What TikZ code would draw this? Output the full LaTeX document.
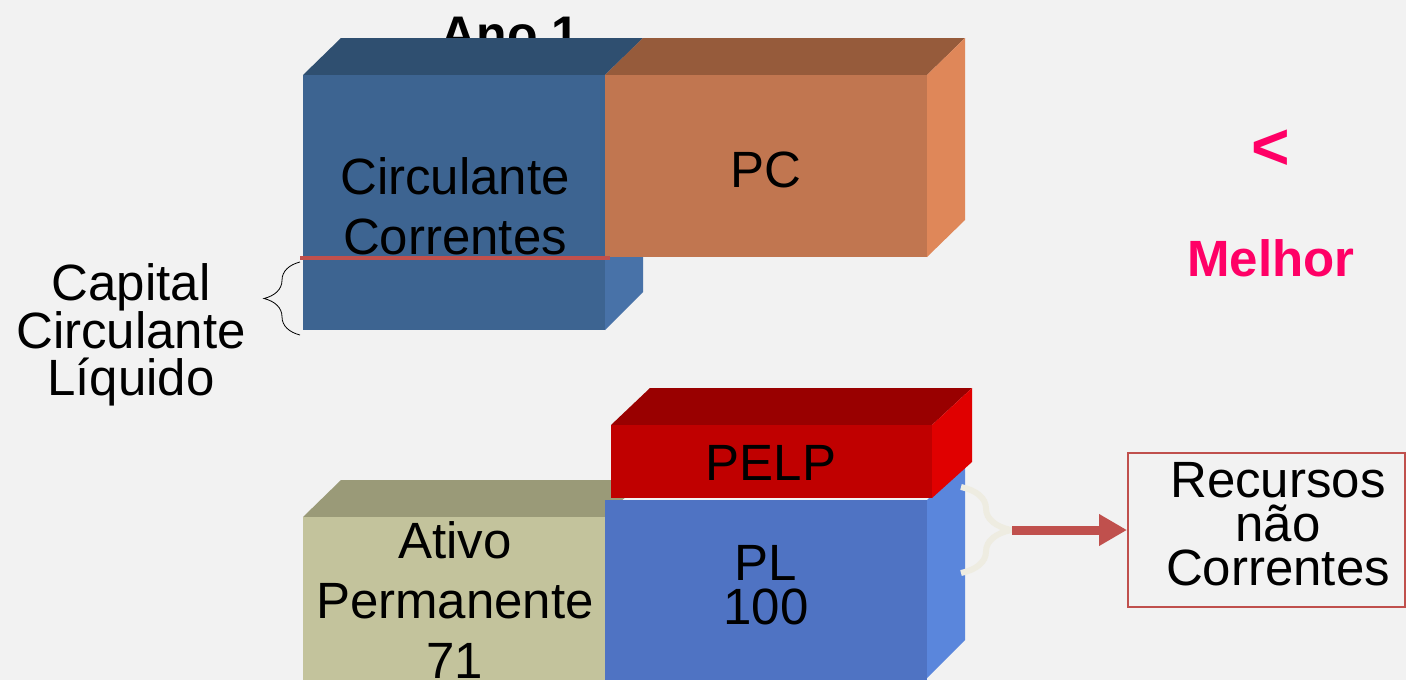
\documentclass[tikz,border=0pt]{standalone}
\usepackage{fontspec}
\setmainfont{Liberation Sans}
\usetikzlibrary{arrows.meta,decorations.pathreplacing}
\definecolor{bg}{HTML}{F2F2F2}
\definecolor{circfront}{HTML}{3D6491}
\definecolor{circtop}{HTML}{2F4F70}
\definecolor{circside}{HTML}{4872A8}
\definecolor{pcfront}{HTML}{C17650}
\definecolor{pctop}{HTML}{965B3B}
\definecolor{pcside}{HTML}{DF8759}
\definecolor{atfront}{HTML}{C3C39C}
\definecolor{attop}{HTML}{9A9A78}
\definecolor{plfront}{HTML}{4F73C3}
\definecolor{plside}{HTML}{5A86DC}
\definecolor{pelpfront}{HTML}{C00000}
\definecolor{pelptop}{HTML}{990000}
\definecolor{pelpside}{HTML}{E00000}
\definecolor{redline}{HTML}{C0504D}
\definecolor{cream}{HTML}{EEECE1}
\definecolor{hotpink}{HTML}{FF0066}

\begin{document}
\begin{tikzpicture}[x=1pt,y=-1pt]
        \tikzstyle{txt}=[align=center,font=\fontsize{51}{60}\selectfont]
        \tikzstyle{tight}=[align=center,font=\fontsize{51}{44}\selectfont]
        \tikzstyle{pinktxt}=[text=hotpink,font=\bfseries\fontsize{51}{60}\selectfont]
        \tikzstyle{brace}=[decorate,decoration={brace,amplitude=#1}]
        \useasboundingbox (0,0) rectangle (1406,680);
        \fill[bg] (0,0) rectangle (1406,680);
        \node [anchor=base,font=\bfseries\fontsize{50}{60}\selectfont] (ano) at (510,51) {Ano 1};
        % upper blocks
        \fill[circtop] (303,75) -- (341,38) -- (643,38) -- (605,75) -- cycle;
        \fill[circside] (605,75) -- (643,38) -- (643,292) -- (605,330) -- cycle;
        \fill[circfront] (303,75) rectangle (605,330);
        \fill[pctop] (605,75) -- (643,38) -- (965,38) -- (927,75) -- cycle;
        \fill[pcside] (927,75) -- (965,38) -- (965,220) -- (927,257) -- cycle;
        \fill[pcfront] (605,75) rectangle (927,257);
        \draw[redline,line width=4pt] (300,258) -- (610,258);
        \node [txt] (circ) at (455,206) {Circulante\\Correntes};
        \node [txt] (pc) at (766,170) {PC};
        % lower blocks
        \fill[attop] (303,517) -- (341,480) -- (643,480) -- (605,517) -- cycle;
        \fill[atfront] (303,517) rectangle (605,690);
        \fill[plside] (927,500) -- (965,462) -- (965,640) -- (927,678) -- cycle;
        \fill[plfront] (605,500) rectangle (927,690);
        \fill[pelptop] (611,425) -- (650,388) -- (972,388) -- (932,425) -- cycle;
        \fill[pelpside] (932,425) -- (972,388) -- (972,462) -- (932,498) -- cycle;
        \fill[pelpfront] (611,425) rectangle (932,498);
        \node [txt] (ativo) at (455,600) {Ativo\\Permanente\\71};
        \node [tight] (pl) at (766,585) {PL\\100};
        \node [txt] (pelp) at (771,463) {PELP};
        % left side
        \node [align=center,font=\fontsize{51}{47}\selectfont] (ccl) at (131,335) {Capital\\Circulante\\Líquido};
        \draw[brace=36pt,thick] (300,335) -- (300,262);
        % right side
        \node [pinktxt,font=\bfseries\fontsize{66}{70}\selectfont] (menor) at (1271,150) {<};
        \node [pinktxt] (melhor) at (1271,258) {Melhor};
        \node [draw=redline,line width=2pt,minimum width=277pt,minimum height=154pt] (recbox) at (1266.5,530) {};
        \node [tight] (rec) at (1278,524) {Recursos\\não\\Correntes};
        \draw[brace=50pt,cream,line width=6pt] (961,487) -- (961,573);
        \coordinate (bt) at (1012,530);
        \draw[redline,line width=9pt,-{Triangle[length=28pt,width=30pt]}] (bt) -- (recbox.west);
\end{tikzpicture}
\end{document}
